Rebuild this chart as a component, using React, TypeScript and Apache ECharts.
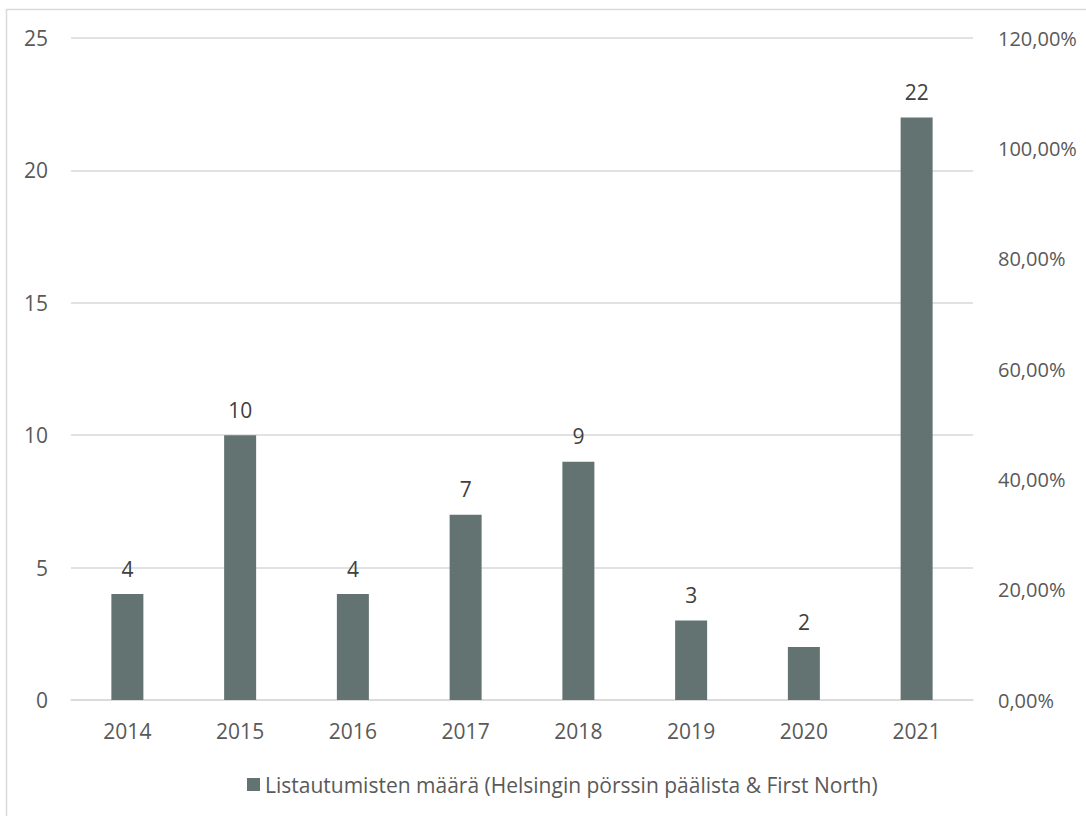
import React, { useEffect, useRef } from "react";
import * as echarts from "echarts";

const years = ["2014", "2015", "2016", "2017", "2018", "2019", "2020", "2021"];
const listings = [4, 10, 4, 7, 9, 3, 2, 22];
const seriesName = "Listautumisten määrä (Helsingin pörssin päälista & First North)";

export default function App() {
  const ref = useRef<HTMLDivElement>(null);
  useEffect(() => {
    const chart = echarts.init(ref.current!, null, { renderer: "svg" });
    const font = "'Open Sans', 'Liberation Sans', sans-serif";
    chart.setOption({
      animation: false,
      backgroundColor: "#ffffff",
      textStyle: { fontFamily: font },
      graphic: [
        {
          type: "rect",
          shape: { x: 6.5, y: 9.5, width: 1200, height: 1000 },
          style: { fill: "none", stroke: "#d9d9d9", lineWidth: 1.5 },
          silent: true,
        },
      ],
      grid: { left: 71, right: 113, top: 38, bottom: 116, containLabel: false },
      legend: {
        left: 242,
        top: 769,
        icon: "rect",
        itemWidth: 13,
        itemHeight: 13,
        itemGap: 6,
        textStyle: { fontSize: 21, color: "#595959", fontFamily: font },
        data: [seriesName],
      },
      xAxis: {
        type: "category",
        data: years,
        axisLine: { lineStyle: { color: "#d9d9d9", width: 1.5 } },
        axisTick: { show: false },
        axisLabel: { fontSize: 21, color: "#595959", margin: 20, fontFamily: font },
      },
      yAxis: [
        {
          type: "value",
          min: 0,
          max: 25,
          interval: 5,
          axisLine: { show: false },
          axisTick: { show: false },
          splitLine: { lineStyle: { color: "#d9d9d9", width: 1.5 } },
          axisLabel: { fontSize: 21, color: "#595959", margin: 23, fontFamily: font },
        },
        {
          type: "value",
          min: 0,
          max: 1.2,
          interval: 0.2,
          position: "right",
          axisLine: { show: false },
          axisTick: { show: false },
          splitLine: { show: false },
          axisLabel: {
            fontSize: 20,
            color: "#595959",
            margin: 25,
            fontFamily: font,
            formatter: (v: number) => (v * 100).toFixed(2).replace(".", ",") + "%",
          },
        },
      ],
      series: [
        {
          name: seriesName,
          type: "bar",
          data: listings,
          barWidth: 32,
          itemStyle: { color: "#637371" },
          label: {
            show: true,
            position: "top",
            distance: 15,
            fontSize: 21,
            color: "#404040",
            fontFamily: font,
          },
        },
      ],
    });
    return () => chart.dispose();
  }, []);
  return (
    <div
      ref={ref}
      style={{ position: "absolute", left: 0, top: 0, width: 1086, height: 816 }}
    />
  );
}
